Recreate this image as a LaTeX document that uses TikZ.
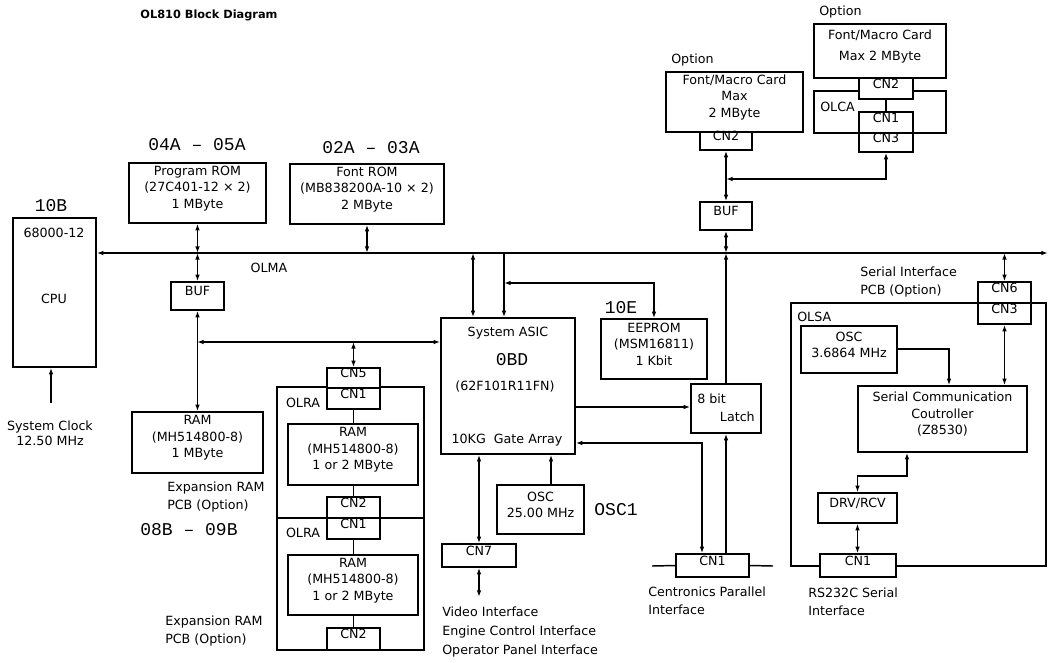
\documentclass[tikz,border=0pt]{standalone}
\usepackage{fontspec}
\setmainfont{DejaVu Sans}
\newfontfamily\monof{Liberation Mono}
\usetikzlibrary{arrows.meta,fit}
\newcommand\bx{\fontsize{9.5}{12.5}\selectfont}
\newcommand\bxw{\fontsize{9.5}{13.5}\selectfont}
\newcommand\mn{\monof\fontsize{13.5}{15}\selectfont}
\tikzset{
  box/.style={draw, line width=1.1pt, inner sep=0pt, align=center, font=\bx},
  cn/.style={box, fill=white},
  lbl/.style={inner sep=0pt, font=\bx},
  lblw/.style={inner sep=0pt, font=\bxw, align=left, anchor=west},
  mono/.style={inner sep=0pt, font=\mn},
  ln/.style={line width=1.1pt},
  arr/.style={ln, -{Latex[length=5pt,width=3.5pt]}},
  darr/.style={ln, {Latex[length=5pt,width=3.5pt]}-{Latex[length=5pt,width=3.5pt]}},
}
\begin{document}
\begin{tikzpicture}[x=0.75pt,y=-0.75pt]
\useasboundingbox (0,0) rectangle (1049,662);

\node[inner sep=0pt, font=\bfseries\fontsize{8.5}{10}\selectfont] (title) at (209,15) {OL810 Block Diagram};

% bus
\coordinate (bus) at (0,253);
\coordinate (busend) at (1048,253);

% CPU
\node[box,fit={(13,218)(96,367)}] (cpu) {};
\node[lbl] (cputype) at (54,233) {68000-12};
\node[lbl] (cpulbl) at (54,299) {CPU};
\node[mono] (l10b) at (51,206) {10B};
\coordinate (clk) at (51,403);
\draw[arr] (clk) -- (clk |- cpu.south);
\node[lbl, align=center, font=\fontsize{9.5}{11.5}\selectfont] (clktxt) at (50,433) {System Clock\\12.50 MHz};
\draw[darr] (cpu.east |- bus) -- (busend);
\node[lbl] (olma) at (269,268) {OLMA};

% Program ROM
\node[box,fit={(129,163)(266,223)}] (prom) {Program ROM\\(27C401-12 × 2)\\1 MByte};
\node[mono] (l04a) at (197,145) {04A – 05A};
\draw[darr] (prom.south) -- (prom.south |- bus);
\node[box,fit={(171,282)(224,310)}] (buf1) {BUF};
\draw[darr] (buf1.north |- bus) -- (buf1.north);
\node[box,fit={(132,412)(263,473)}] (ram) {RAM\\(MH514800-8)\\1 MByte};
\draw[darr] (buf1.south) -- (buf1.south |- ram.north);
\node[lblw] (exp1) at (167,497) {Expansion RAM\\PCB (Option)};
\node[mono] (l08b) at (189,530) {08B – 09B};
\node[lblw] (exp2) at (165,631) {Expansion RAM\\PCB (Option)};

% Font ROM
\node[box,fit={(290,164)(444,224)}] (from) {Font ROM\\(MB838200A-10 × 2)\\2 MByte};
\node[mono] (l02a) at (371,148) {02A – 03A};
\draw[darr] (from.south) -- (from.south |- bus);

% System ASIC
\node[box,fit={(441,318)(575,454)}] (asic) {};
\node[lbl] (asic1) at (508,333) {System ASIC};
\node[mono] (asic2) at (512,360) {0BD};
\node[lbl] (asic3) at (505,387) {(62F101R11FN)};
\node[lbl] (asic4) at (507,440) {10KG\ \ Gate Array};
\coordinate (j1) at (197,342);
\draw[darr] (j1) -- (j1 -| asic.west);
\coordinate (a1) at (473,253);
\draw[darr] (a1) -- (a1 |- asic.north);
\coordinate (a2) at (504,253);
\draw[arr] (a2) -- (a2 |- asic.north);

% EEPROM
\node[box,fit={(601,319)(707,379)}] (eeprom) {EEPROM\\(MSM16811)\\1 Kbit};
\node[mono] (l10e) at (621,308) {10E};
\coordinate (ej) at (504,283);
\draw[darr] (ej) -- (ej -| eeprom.north) -- (eeprom.north);

% OLRA
\node[box,fit={(277,387)(424,650)}] (olra) {};
\coordinate (dl) at (277,518);
\coordinate (dr) at (424,518);
\draw[ln] (dl) -- (dr);
\node[lbl] (olra1) at (303,403) {OLRA};
\node[lbl] (olra2) at (303,533) {OLRA};
\node[cn,fit={(327,368)(380,388)}] (cn5) {CN5};
\node[cn,fit={(327,388)(380,409)}] (cn1a) {CN1};
\node[box,fit={(288,424)(418,485)}] (ram1) {RAM\\(MH514800-8)\\1 or 2 MByte};
\node[cn,fit={(327,497)(380,518)}] (cn2a) {CN2};
\node[cn,fit={(327,518)(380,539)}] (cn1b) {CN1};
\node[box,fit={(288,555)(418,615)}] (ram2) {RAM\\(MH514800-8)\\1 or 2 MByte};
\node[cn,fit={(327,628)(380,650)}] (cn2b) {CN2};
\draw[darr] (cn5.north |- j1) -- (cn5.north);
\draw[ln] (cn1a.south) -- (cn1a.south |- ram1.north);
\draw[ln] (cn2a.north |- ram1.south) -- (cn2a.north);
\draw[ln] (cn1b.south) -- (cn1b.south |- ram2.north);
\draw[ln] (cn2b.north |- ram2.south) -- (cn2b.north);

% OSC 25 MHz, CN7
\node[box,fit={(497,485)(584,534)}] (osc1) {OSC\\25.00 MHz};
\node[mono] (losc1) at (616,510) {OSC1};
\coordinate (oa) at (551,485);
\draw[arr] (oa) -- (oa |- asic.south);
\node[box,fit={(442,544)(516,567)}] (cn7) {CN7};
\draw[darr] (cn7.north |- asic.south) -- (cn7.north);
\coordinate (vid) at (479,597);
\draw[darr] (cn7.south) -- (vid);
\node[lblw, font=\fontsize{9.5}{14}\selectfont] (vidtxt) at (442,632) {Video Interface\\Engine Control Interface\\Operator Panel Interface};

% Latch, Centronics
\node[box,fit={(691,384)(761,433)}] (latch) {};
\node[lbl, anchor=west] (latch1) at (697,399) {8 bit};
\node[lbl, anchor=east] (latch2) at (755,417) {Latch};
\coordinate (lj) at (575,407);
\draw[arr] (lj) -- (lj -| latch.west);
\draw[arr] (latch.north) -- (latch.north |- bus);
\node[box,fit={(676,554)(749,577)}] (ccn1) {CN1};
\coordinate (cl) at (652,566);
\coordinate (cr) at (773,566);
\draw[ln] (cl) -- (ccn1.west);
\draw[ln] (ccn1.east) -- (cr);
\draw[arr] (latch.south |- ccn1.north) -- (latch.south);
\coordinate (cj) at (702,443);
\draw[darr] (cj -| asic.east) -- (cj) -- (cj |- ccn1.north);
\node[lblw] (centxt) at (648,601) {Centronics Parallel\\Interface};

% top right option cards
\node[lbl, anchor=west] (opt1) at (671,60) {Option};
\node[box,fit={(666,72)(803,132)}] (fmc1) {Font/Macro Card\\Max\\2 MByte};
\node[cn,fit={(700,132)(752,150)}] (cn2l) {CN2};
\node[box,fit={(700,202)(752,230)}] (buf2) {BUF};
\draw[darr] (cn2l.south) -- (buf2.north);
\draw[darr] (buf2.south) -- (buf2.south |- bus);

\node[lbl, anchor=west] (opt2) at (819,12) {Option};
\node[box,fit={(814,24)(946,78)}] (fmc2) {Font/Macro Card\\[3pt]Max 2 MByte};
\node[box,fit={(814,91)(946,133)}] (olca) {};
\node[lbl, anchor=west] (olcalbl) at (820,107) {OLCA};
\node[cn,fit={(859,78)(913,99)}] (cn2o) {CN2};
\node[cn,fit={(859,112)(913,133)}] (cn1o) {CN1};
\node[cn,fit={(859,133)(913,152)}] (cn3o) {CN3};
\draw[ln] (cn2o.south) -- (cn1o.north);
\coordinate (tj) at (726,179);
\draw[darr] (tj) -- (tj -| cn3o.south) -- (cn3o.south);

% OLSA serial
\node[box,fit={(791,303)(1046,566)}] (olsa) {};
\node[lbl, anchor=west] (olsalbl) at (797,317) {OLSA};
\node[lblw] (sitxt) at (860,282) {Serial Interface\\PCB (Option)};
\node[cn,fit={(978,282)(1031,303)}] (cn6) {CN6};
\node[cn,fit={(978,303)(1031,324)}] (cn3s) {CN3};
\draw[darr] (cn6.north |- bus) -- (cn6.north);
\node[box,fit={(801,326)(897,373)}] (osc2) {OSC\\3.6864 MHz};
\node[box,fit={(858,386)(1027,452)}] (scc) {Serial Communication\\Coutroller\\(Z8530)};
\draw[darr] (cn3s.south) -- (cn3s.south |- scc.north);
\coordinate (oj) at (949,349);
\draw[arr] (osc2.east |- oj) -- (oj) -- (oj |- scc.north);
\node[box,fit={(818,493)(897,523)}] (drv) {DRV/RCV};
\coordinate (sj1) at (907,476);
\coordinate (sj2) at (857.5,476);
\draw[darr] (sj1 |- scc.south) -- (sj1) -- (sj2) -- (sj2 |- drv.north);
\node[cn,fit={(820,554)(896,577)}] (rcn1) {CN1};
\draw[darr] (drv.south) -- (drv.south |- rcn1.north);
\node[lblw] (rstxt) at (808,602) {RS232C Serial\\Interface};
\end{tikzpicture}
\end{document}
